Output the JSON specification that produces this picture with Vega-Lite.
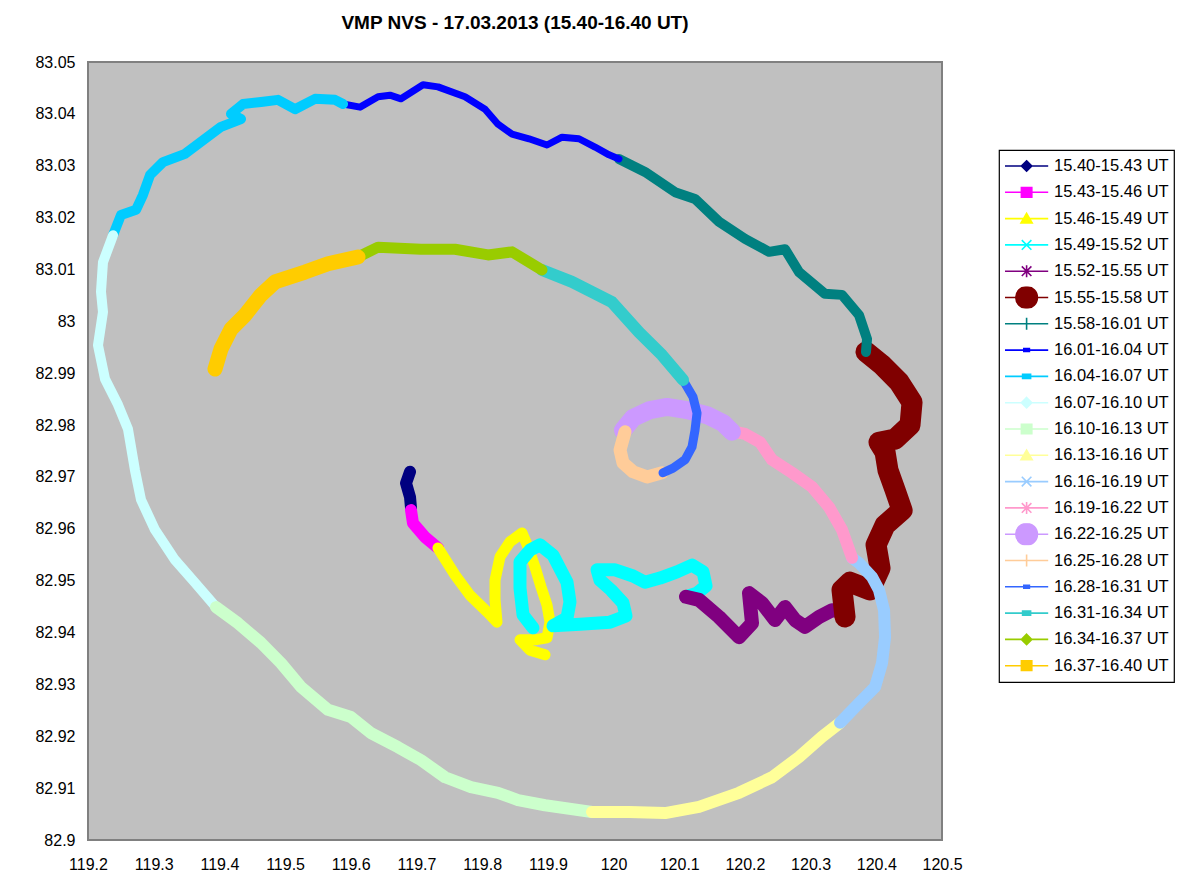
{
  "$schema": "https://vega.github.io/schema/vega-lite/v6.json",
  "width": 854,
  "height": 778,
  "autosize": "none",
  "padding": {"left": 88, "top": 62, "right": 238, "bottom": 55},
  "background": "#ffffff",
  "title": {"text": "VMP NVS - 17.03.2013 (15.40-16.40 UT)", "font": "Liberation Sans", "fontSize": 19, "fontWeight": "bold", "color": "#000000", "anchor": "middle", "offset": 21},
  "data": {"values": [
    {"s":"15.40-15.43 UT","x":119.6902,"y":82.9710,"i":1},
    {"s":"15.40-15.43 UT","x":119.6841,"y":82.9688,"i":2},
    {"s":"15.40-15.43 UT","x":119.6902,"y":82.9661,"i":3},
    {"s":"15.40-15.43 UT","x":119.6917,"y":82.9640,"i":4},
    {"s":"15.43-15.46 UT","x":119.6917,"y":82.9636,"i":5},
    {"s":"15.43-15.46 UT","x":119.6947,"y":82.9611,"i":6},
    {"s":"15.43-15.46 UT","x":119.7130,"y":82.9584,"i":7},
    {"s":"15.43-15.46 UT","x":119.7328,"y":82.9563,"i":8},
    {"s":"15.46-15.49 UT","x":119.7328,"y":82.9563,"i":9},
    {"s":"15.46-15.49 UT","x":119.7587,"y":82.9511,"i":10},
    {"s":"15.46-15.49 UT","x":119.7815,"y":82.9472,"i":11},
    {"s":"15.46-15.49 UT","x":119.8074,"y":82.9440,"i":12},
    {"s":"15.46-15.49 UT","x":119.8226,"y":82.9420,"i":13},
    {"s":"15.46-15.49 UT","x":119.8196,"y":82.9463,"i":14},
    {"s":"15.46-15.49 UT","x":119.8196,"y":82.9501,"i":15},
    {"s":"15.46-15.49 UT","x":119.8272,"y":82.9546,"i":16},
    {"s":"15.46-15.49 UT","x":119.8424,"y":82.9575,"i":17},
    {"s":"15.46-15.49 UT","x":119.8607,"y":82.9592,"i":18},
    {"s":"15.46-15.49 UT","x":119.8698,"y":82.9565,"i":19},
    {"s":"15.46-15.49 UT","x":119.8805,"y":82.9526,"i":20},
    {"s":"15.46-15.49 UT","x":119.8896,"y":82.9488,"i":21},
    {"s":"15.46-15.49 UT","x":119.8987,"y":82.9453,"i":22},
    {"s":"15.46-15.49 UT","x":119.9033,"y":82.9420,"i":23},
    {"s":"15.46-15.49 UT","x":119.8987,"y":82.9390,"i":24},
    {"s":"15.46-15.49 UT","x":119.8805,"y":82.9386,"i":25},
    {"s":"15.46-15.49 UT","x":119.8576,"y":82.9386,"i":26},
    {"s":"15.46-15.49 UT","x":119.8729,"y":82.9366,"i":27},
    {"s":"15.46-15.49 UT","x":119.8957,"y":82.9357,"i":28},
    {"s":"15.49-15.52 UT","x":119.8774,"y":82.9409,"i":29},
    {"s":"15.49-15.52 UT","x":119.8622,"y":82.9434,"i":30},
    {"s":"15.49-15.52 UT","x":119.8576,"y":82.9486,"i":31},
    {"s":"15.49-15.52 UT","x":119.8576,"y":82.9536,"i":32},
    {"s":"15.49-15.52 UT","x":119.8729,"y":82.9559,"i":33},
    {"s":"15.49-15.52 UT","x":119.8881,"y":82.9569,"i":34},
    {"s":"15.49-15.52 UT","x":119.9079,"y":82.9549,"i":35},
    {"s":"15.49-15.52 UT","x":119.9292,"y":82.9497,"i":36},
    {"s":"15.49-15.52 UT","x":119.9337,"y":82.9459,"i":37},
    {"s":"15.49-15.52 UT","x":119.9292,"y":82.9428,"i":38},
    {"s":"15.49-15.52 UT","x":119.9079,"y":82.9413,"i":39},
    {"s":"15.49-15.52 UT","x":119.9490,"y":82.9416,"i":40},
    {"s":"15.49-15.52 UT","x":119.9946,"y":82.9420,"i":41},
    {"s":"15.49-15.52 UT","x":120.0190,"y":82.9432,"i":42},
    {"s":"15.49-15.52 UT","x":120.0144,"y":82.9457,"i":43},
    {"s":"15.49-15.52 UT","x":119.9962,"y":82.9482,"i":44},
    {"s":"15.49-15.52 UT","x":119.9794,"y":82.9501,"i":45},
    {"s":"15.49-15.52 UT","x":119.9749,"y":82.9521,"i":46},
    {"s":"15.49-15.52 UT","x":120.0023,"y":82.9521,"i":47},
    {"s":"15.49-15.52 UT","x":120.0297,"y":82.9509,"i":48},
    {"s":"15.49-15.52 UT","x":120.0479,"y":82.9497,"i":49},
    {"s":"15.49-15.52 UT","x":120.0708,"y":82.9505,"i":50},
    {"s":"15.49-15.52 UT","x":120.0966,"y":82.9517,"i":51},
    {"s":"15.49-15.52 UT","x":120.1195,"y":82.9530,"i":52},
    {"s":"15.49-15.52 UT","x":120.1362,"y":82.9517,"i":53},
    {"s":"15.49-15.52 UT","x":120.1408,"y":82.9490,"i":54},
    {"s":"15.49-15.52 UT","x":120.1271,"y":82.9476,"i":55},
    {"s":"15.49-15.52 UT","x":120.1103,"y":82.9469,"i":56},
    {"s":"15.52-15.55 UT","x":120.1103,"y":82.9469,"i":57},
    {"s":"15.52-15.55 UT","x":120.1301,"y":82.9463,"i":58},
    {"s":"15.52-15.55 UT","x":120.1606,"y":82.9430,"i":59},
    {"s":"15.52-15.55 UT","x":120.1910,"y":82.9391,"i":60},
    {"s":"15.52-15.55 UT","x":120.2108,"y":82.9418,"i":61},
    {"s":"15.52-15.55 UT","x":120.2062,"y":82.9476,"i":62},
    {"s":"15.52-15.55 UT","x":120.2260,"y":82.9457,"i":63},
    {"s":"15.52-15.55 UT","x":120.2458,"y":82.9424,"i":64},
    {"s":"15.52-15.55 UT","x":120.2610,"y":82.9449,"i":65},
    {"s":"15.52-15.55 UT","x":120.2763,"y":82.9424,"i":66},
    {"s":"15.52-15.55 UT","x":120.2915,"y":82.9411,"i":67},
    {"s":"15.52-15.55 UT","x":120.3128,"y":82.9430,"i":68},
    {"s":"15.52-15.55 UT","x":120.3326,"y":82.9443,"i":69},
    {"s":"15.52-15.55 UT","x":120.3524,"y":82.9440,"i":70},
    {"s":"15.55-15.58 UT","x":120.3524,"y":82.9430,"i":71},
    {"s":"15.55-15.58 UT","x":120.3478,"y":82.9482,"i":72},
    {"s":"15.55-15.58 UT","x":120.3600,"y":82.9497,"i":73},
    {"s":"15.55-15.58 UT","x":120.3904,"y":82.9482,"i":74},
    {"s":"15.55-15.58 UT","x":120.4057,"y":82.9524,"i":75},
    {"s":"15.55-15.58 UT","x":120.3996,"y":82.9569,"i":76},
    {"s":"15.55-15.58 UT","x":120.4133,"y":82.9607,"i":77},
    {"s":"15.55-15.58 UT","x":120.4392,"y":82.9636,"i":78},
    {"s":"15.55-15.58 UT","x":120.4285,"y":82.9675,"i":79},
    {"s":"15.55-15.58 UT","x":120.4178,"y":82.9713,"i":80},
    {"s":"15.55-15.58 UT","x":120.4133,"y":82.9748,"i":81},
    {"s":"15.55-15.58 UT","x":120.4041,"y":82.9767,"i":82},
    {"s":"15.55-15.58 UT","x":120.4285,"y":82.9773,"i":83},
    {"s":"15.55-15.58 UT","x":120.4513,"y":82.9800,"i":84},
    {"s":"15.55-15.58 UT","x":120.4544,"y":82.9844,"i":85},
    {"s":"15.55-15.58 UT","x":120.4346,"y":82.9883,"i":86},
    {"s":"15.55-15.58 UT","x":120.4087,"y":82.9916,"i":87},
    {"s":"15.55-15.58 UT","x":120.3843,"y":82.9941,"i":88},
    {"s":"15.58-16.01 UT","x":120.3843,"y":82.9941,"i":89},
    {"s":"15.58-16.01 UT","x":120.3859,"y":82.9966,"i":90},
    {"s":"15.58-16.01 UT","x":120.3737,"y":83.0012,"i":91},
    {"s":"15.58-16.01 UT","x":120.3478,"y":83.0051,"i":92},
    {"s":"15.58-16.01 UT","x":120.3219,"y":83.0053,"i":93},
    {"s":"15.58-16.01 UT","x":120.2824,"y":83.0095,"i":94},
    {"s":"15.58-16.01 UT","x":120.2610,"y":83.0139,"i":95},
    {"s":"15.58-16.01 UT","x":120.2367,"y":83.0134,"i":96},
    {"s":"15.58-16.01 UT","x":120.2002,"y":83.0159,"i":97},
    {"s":"15.58-16.01 UT","x":120.1606,"y":83.0192,"i":98},
    {"s":"15.58-16.01 UT","x":120.1240,"y":83.0236,"i":99},
    {"s":"15.58-16.01 UT","x":120.0936,"y":83.0249,"i":100},
    {"s":"15.58-16.01 UT","x":120.0479,"y":83.0288,"i":101},
    {"s":"15.58-16.01 UT","x":120.0083,"y":83.0313,"i":102},
    {"s":"16.01-16.04 UT","x":120.0083,"y":83.0313,"i":103},
    {"s":"16.01-16.04 UT","x":119.9931,"y":83.0321,"i":104},
    {"s":"16.01-16.04 UT","x":119.9718,"y":83.0336,"i":105},
    {"s":"16.01-16.04 UT","x":119.9474,"y":83.0352,"i":106},
    {"s":"16.01-16.04 UT","x":119.9216,"y":83.0355,"i":107},
    {"s":"16.01-16.04 UT","x":119.8987,"y":83.0340,"i":108},
    {"s":"16.01-16.04 UT","x":119.8713,"y":83.0352,"i":109},
    {"s":"16.01-16.04 UT","x":119.8455,"y":83.0361,"i":110},
    {"s":"16.01-16.04 UT","x":119.8241,"y":83.0380,"i":111},
    {"s":"16.01-16.04 UT","x":119.8044,"y":83.0409,"i":112},
    {"s":"16.01-16.04 UT","x":119.7739,"y":83.0433,"i":113},
    {"s":"16.01-16.04 UT","x":119.7328,"y":83.0452,"i":114},
    {"s":"16.01-16.04 UT","x":119.7100,"y":83.0456,"i":115},
    {"s":"16.01-16.04 UT","x":119.6765,"y":83.0429,"i":116},
    {"s":"16.01-16.04 UT","x":119.6597,"y":83.0436,"i":117},
    {"s":"16.01-16.04 UT","x":119.6415,"y":83.0433,"i":118},
    {"s":"16.01-16.04 UT","x":119.6141,"y":83.0413,"i":119},
    {"s":"16.01-16.04 UT","x":119.5882,"y":83.0419,"i":120},
    {"s":"16.04-16.07 UT","x":119.5882,"y":83.0419,"i":121},
    {"s":"16.04-16.07 UT","x":119.5760,"y":83.0427,"i":122},
    {"s":"16.04-16.07 UT","x":119.5456,"y":83.0429,"i":123},
    {"s":"16.04-16.07 UT","x":119.5151,"y":83.0409,"i":124},
    {"s":"16.04-16.07 UT","x":119.4892,"y":83.0427,"i":125},
    {"s":"16.04-16.07 UT","x":119.4634,"y":83.0423,"i":126},
    {"s":"16.04-16.07 UT","x":119.4360,"y":83.0419,"i":127},
    {"s":"16.04-16.07 UT","x":119.4177,"y":83.0400,"i":128},
    {"s":"16.04-16.07 UT","x":119.4329,"y":83.0390,"i":129},
    {"s":"16.04-16.07 UT","x":119.4025,"y":83.0375,"i":130},
    {"s":"16.04-16.07 UT","x":119.3675,"y":83.0342,"i":131},
    {"s":"16.04-16.07 UT","x":119.3477,"y":83.0323,"i":132},
    {"s":"16.04-16.07 UT","x":119.3142,"y":83.0307,"i":133},
    {"s":"16.04-16.07 UT","x":119.2944,"y":83.0282,"i":134},
    {"s":"16.04-16.07 UT","x":119.2837,"y":83.0244,"i":135},
    {"s":"16.04-16.07 UT","x":119.2731,"y":83.0215,"i":136},
    {"s":"16.04-16.07 UT","x":119.2502,"y":83.0205,"i":137},
    {"s":"16.04-16.07 UT","x":119.2381,"y":83.0166,"i":138},
    {"s":"16.07-16.10 UT","x":119.2381,"y":83.0166,"i":139},
    {"s":"16.07-16.10 UT","x":119.2228,"y":83.0114,"i":140},
    {"s":"16.07-16.10 UT","x":119.2198,"y":83.0057,"i":141},
    {"s":"16.07-16.10 UT","x":119.2228,"y":83.0018,"i":142},
    {"s":"16.07-16.10 UT","x":119.2152,"y":82.9954,"i":143},
    {"s":"16.07-16.10 UT","x":119.2259,"y":82.9889,"i":144},
    {"s":"16.07-16.10 UT","x":119.2457,"y":82.9839,"i":145},
    {"s":"16.07-16.10 UT","x":119.2609,"y":82.9792,"i":146},
    {"s":"16.07-16.10 UT","x":119.2715,"y":82.9713,"i":147},
    {"s":"16.07-16.10 UT","x":119.2807,"y":82.9656,"i":148},
    {"s":"16.07-16.10 UT","x":119.3020,"y":82.9598,"i":149},
    {"s":"16.07-16.10 UT","x":119.3324,"y":82.9540,"i":150},
    {"s":"16.07-16.10 UT","x":119.3629,"y":82.9496,"i":151},
    {"s":"16.07-16.10 UT","x":119.3949,"y":82.9449,"i":152},
    {"s":"16.10-16.13 UT","x":119.3949,"y":82.9449,"i":153},
    {"s":"16.10-16.13 UT","x":119.4283,"y":82.9418,"i":154},
    {"s":"16.10-16.13 UT","x":119.4634,"y":82.9380,"i":155},
    {"s":"16.10-16.13 UT","x":119.4938,"y":82.9341,"i":156},
    {"s":"16.10-16.13 UT","x":119.5243,"y":82.9295,"i":157},
    {"s":"16.10-16.13 UT","x":119.5654,"y":82.9251,"i":158},
    {"s":"16.10-16.13 UT","x":119.6004,"y":82.9237,"i":159},
    {"s":"16.10-16.13 UT","x":119.6308,"y":82.9206,"i":160},
    {"s":"16.10-16.13 UT","x":119.6719,"y":82.9179,"i":161},
    {"s":"16.10-16.13 UT","x":119.7069,"y":82.9154,"i":162},
    {"s":"16.10-16.13 UT","x":119.7435,"y":82.9121,"i":163},
    {"s":"16.10-16.13 UT","x":119.7830,"y":82.9102,"i":164},
    {"s":"16.10-16.13 UT","x":119.8241,"y":82.9091,"i":165},
    {"s":"16.10-16.13 UT","x":119.8546,"y":82.9077,"i":166},
    {"s":"16.10-16.13 UT","x":119.8957,"y":82.9067,"i":167},
    {"s":"16.10-16.13 UT","x":119.9672,"y":82.9054,"i":168},
    {"s":"16.13-16.16 UT","x":119.9672,"y":82.9054,"i":169},
    {"s":"16.13-16.16 UT","x":120.0236,"y":82.9054,"i":170},
    {"s":"16.13-16.16 UT","x":120.0784,"y":82.9052,"i":171},
    {"s":"16.13-16.16 UT","x":120.1301,"y":82.9064,"i":172},
    {"s":"16.13-16.16 UT","x":120.1910,"y":82.9091,"i":173},
    {"s":"16.13-16.16 UT","x":120.2413,"y":82.9121,"i":174},
    {"s":"16.13-16.16 UT","x":120.2824,"y":82.9160,"i":175},
    {"s":"16.13-16.16 UT","x":120.3174,"y":82.9199,"i":176},
    {"s":"16.13-16.16 UT","x":120.3448,"y":82.9226,"i":177},
    {"s":"16.16-16.19 UT","x":120.3448,"y":82.9226,"i":178},
    {"s":"16.16-16.19 UT","x":120.3737,"y":82.9264,"i":179},
    {"s":"16.16-16.19 UT","x":120.3981,"y":82.9295,"i":180},
    {"s":"16.16-16.19 UT","x":120.4087,"y":82.9341,"i":181},
    {"s":"16.16-16.19 UT","x":120.4133,"y":82.9391,"i":182},
    {"s":"16.16-16.19 UT","x":120.4118,"y":82.9443,"i":183},
    {"s":"16.16-16.19 UT","x":120.4041,"y":82.9482,"i":184},
    {"s":"16.16-16.19 UT","x":120.3935,"y":82.9507,"i":185},
    {"s":"16.16-16.19 UT","x":120.3737,"y":82.9534,"i":186},
    {"s":"16.16-16.19 UT","x":120.3630,"y":82.9544,"i":187},
    {"s":"16.19-16.22 UT","x":120.3630,"y":82.9544,"i":188},
    {"s":"16.19-16.22 UT","x":120.3478,"y":82.9598,"i":189},
    {"s":"16.19-16.22 UT","x":120.3280,"y":82.9642,"i":190},
    {"s":"16.19-16.22 UT","x":120.3021,"y":82.9681,"i":191},
    {"s":"16.19-16.22 UT","x":120.2717,"y":82.9708,"i":192},
    {"s":"16.19-16.22 UT","x":120.2413,"y":82.9733,"i":193},
    {"s":"16.19-16.22 UT","x":120.2230,"y":82.9767,"i":194},
    {"s":"16.19-16.22 UT","x":120.2002,"y":82.9783,"i":195},
    {"s":"16.19-16.22 UT","x":120.1849,"y":82.9787,"i":196},
    {"s":"16.22-16.25 UT","x":120.1804,"y":82.9787,"i":197},
    {"s":"16.22-16.25 UT","x":120.1667,"y":82.9804,"i":198},
    {"s":"16.22-16.25 UT","x":120.1423,"y":82.9819,"i":199},
    {"s":"16.22-16.25 UT","x":120.1119,"y":82.9829,"i":200},
    {"s":"16.22-16.25 UT","x":120.0814,"y":82.9835,"i":201},
    {"s":"16.22-16.25 UT","x":120.0555,"y":82.9829,"i":202},
    {"s":"16.22-16.25 UT","x":120.0297,"y":82.9814,"i":203},
    {"s":"16.22-16.25 UT","x":120.0144,"y":82.9790,"i":204},
    {"s":"16.25-16.28 UT","x":120.0175,"y":82.9787,"i":205},
    {"s":"16.25-16.28 UT","x":120.0099,"y":82.9752,"i":206},
    {"s":"16.25-16.28 UT","x":120.0144,"y":82.9727,"i":207},
    {"s":"16.25-16.28 UT","x":120.0297,"y":82.9710,"i":208},
    {"s":"16.25-16.28 UT","x":120.0510,"y":82.9700,"i":209},
    {"s":"16.25-16.28 UT","x":120.0738,"y":82.9708,"i":210},
    {"s":"16.28-16.31 UT","x":120.0753,"y":82.9708,"i":211},
    {"s":"16.28-16.31 UT","x":120.0906,"y":82.9717,"i":212},
    {"s":"16.28-16.31 UT","x":120.1088,"y":82.9733,"i":213},
    {"s":"16.28-16.31 UT","x":120.1195,"y":82.9758,"i":214},
    {"s":"16.28-16.31 UT","x":120.1240,"y":82.9790,"i":215},
    {"s":"16.28-16.31 UT","x":120.1271,"y":82.9823,"i":216},
    {"s":"16.28-16.31 UT","x":120.1210,"y":82.9854,"i":217},
    {"s":"16.28-16.31 UT","x":120.1058,"y":82.9887,"i":218},
    {"s":"16.31-16.34 UT","x":120.1058,"y":82.9887,"i":219},
    {"s":"16.31-16.34 UT","x":120.0738,"y":82.9935,"i":220},
    {"s":"16.31-16.34 UT","x":120.0388,"y":82.9979,"i":221},
    {"s":"16.31-16.34 UT","x":119.9977,"y":83.0037,"i":222},
    {"s":"16.31-16.34 UT","x":119.9368,"y":83.0076,"i":223},
    {"s":"16.31-16.34 UT","x":119.8911,"y":83.0099,"i":224},
    {"s":"16.34-16.37 UT","x":119.8911,"y":83.0099,"i":225},
    {"s":"16.34-16.37 UT","x":119.8455,"y":83.0134,"i":226},
    {"s":"16.34-16.37 UT","x":119.8089,"y":83.0128,"i":227},
    {"s":"16.34-16.37 UT","x":119.7587,"y":83.0139,"i":228},
    {"s":"16.34-16.37 UT","x":119.7069,"y":83.0139,"i":229},
    {"s":"16.34-16.37 UT","x":119.6415,"y":83.0143,"i":230},
    {"s":"16.34-16.37 UT","x":119.6110,"y":83.0124,"i":231},
    {"s":"16.37-16.40 UT","x":119.6110,"y":83.0124,"i":232},
    {"s":"16.37-16.40 UT","x":119.5654,"y":83.0111,"i":233},
    {"s":"16.37-16.40 UT","x":119.5303,"y":83.0095,"i":234},
    {"s":"16.37-16.40 UT","x":119.4847,"y":83.0076,"i":235},
    {"s":"16.37-16.40 UT","x":119.4634,"y":83.0051,"i":236},
    {"s":"16.37-16.40 UT","x":119.4390,"y":83.0012,"i":237},
    {"s":"16.37-16.40 UT","x":119.4177,"y":82.9985,"i":238},
    {"s":"16.37-16.40 UT","x":119.4025,"y":82.9947,"i":239},
    {"s":"16.37-16.40 UT","x":119.3933,"y":82.9908,"i":240}
  ]},
  "encoding": {
    "x": {"field": "x", "type": "quantitative", "scale": {"domain": [119.2, 120.5], "nice": false, "zero": false},
      "axis": {"title": null, "values": [119.2,119.3,119.4,119.5,119.6,119.7,119.8,119.9,120,120.1,120.2,120.3,120.4,120.5], "format": ".4~r", "labelPadding": 16}},
    "y": {"field": "y", "type": "quantitative", "scale": {"domain": [82.9, 83.05], "nice": false, "zero": false},
      "axis": {"title": null, "values": [82.9,82.91,82.92,82.93,82.94,82.95,82.96,82.97,82.98,82.99,83,83.01,83.02,83.03,83.04,83.05], "format": ".4~r", "labelPadding": 13}}
  },
  "layer": [
    {
      "mark": {"type": "point", "filled": true, "size": 1, "opacity": 1, "strokeWidth": 0},
      "encoding": {
        "color": {"field": "s", "type": "nominal",
          "scale": {"domain": ["15.40-15.43 UT","15.43-15.46 UT","15.46-15.49 UT","15.49-15.52 UT","15.52-15.55 UT","15.55-15.58 UT","15.58-16.01 UT","16.01-16.04 UT","16.04-16.07 UT","16.07-16.10 UT","16.10-16.13 UT","16.13-16.16 UT","16.16-16.19 UT","16.19-16.22 UT","16.22-16.25 UT","16.25-16.28 UT","16.28-16.31 UT","16.31-16.34 UT","16.34-16.37 UT","16.37-16.40 UT"],
            "range": ["#000080","#FF00FF","#FFFF00","#00FFFF","#800080","#800000","#008080","#0000FF","#00CCFF","#CCFFFF","#CCFFCC","#FFFF99","#99CCFF","#FF99CC","#CC99FF","#FFCC99","#3366FF","#33CCCC","#99CC00","#FFCC00"]},
          "legend": {"title": null, "orient": "none", "legendX": 911, "legendY": 88, "strokeColor": "#000000", "fillColor": "#ffffff", "padding": 5, "symbolSize": 256, "labelOffset": 32, "rowPadding": 4.3, "clipHeight": 22, "labelFont": "Liberation Sans", "labelFontSize": 16.5, "labelColor": "#000000", "symbolStrokeWidth": 1.6, "labelLimit": 0, "symbolLimit": 0,
            "encode": {"symbols": {"update": {
              "fill": {"scale": "color", "field": "value"},
              "stroke": {"scale": "color", "field": "value"},
              "shape": {"scale": "shape", "field": "value"},
              "size": {"value": 256},
              "strokeWidth": {"value": 1.6},
              "opacity": {"value": 1}
            }}}}},
        "shape": {"field": "s", "type": "nominal",
          "scale": {"domain": ["15.40-15.43 UT","15.43-15.46 UT","15.46-15.49 UT","15.49-15.52 UT","15.52-15.55 UT","15.55-15.58 UT","15.58-16.01 UT","16.01-16.04 UT","16.04-16.07 UT","16.07-16.10 UT","16.10-16.13 UT","16.13-16.16 UT","16.16-16.19 UT","16.19-16.22 UT","16.22-16.25 UT","16.25-16.28 UT","16.28-16.31 UT","16.31-16.34 UT","16.34-16.37 UT","16.37-16.40 UT"],
            "range": [
              "M-1,0H4.4M1.7,-0.65L2.35,0L1.7,0.65L1.05,0Z",
              "M-1,0H4.4M1.05,-0.6H2.35V0.6H1.05Z",
              "M-1,0H4.4M1.7,-0.65L2.4,0.55H1Z",
              "M-1,0H4.4M1.1,-0.6L2.3,0.6M1.1,0.6L2.3,-0.6",
              "M-1,0H4.4M1.1,-0.6L2.3,0.6M1.1,0.6L2.3,-0.6M1.7,-0.75V0.75",
              "M-1,0H4.4M0.35,0A1.35,1.35,0,1,1,3.05,0A1.35,1.35,0,1,1,0.35,0Z",
              "M-1,0H4.4M1,0H2.4M1.7,-0.75V0.75",
              "M-1,0H4.4M1.35,-0.18H2.05V0.18H1.35Z",
              "M-1,0H4.4M1.2,-0.25H2.2V0.25H1.2Z",
              "M-1,0H4.4M1.7,-0.65L2.35,0L1.7,0.65L1.05,0Z",
              "M-1,0H4.4M1.05,-0.6H2.35V0.6H1.05Z",
              "M-1,0H4.4M1.7,-0.65L2.4,0.55H1Z",
              "M-1,0H4.4M1.1,-0.6L2.3,0.6M1.1,0.6L2.3,-0.6",
              "M-1,0H4.4M1.1,-0.6L2.3,0.6M1.1,0.6L2.3,-0.6M1.7,-0.75V0.75",
              "M-1,0H4.4M0.35,0A1.35,1.35,0,1,1,3.05,0A1.35,1.35,0,1,1,0.35,0Z",
              "M-1,0H4.4M1,0H2.4M1.7,-0.75V0.75",
              "M-1,0H4.4M1.35,-0.18H2.05V0.18H1.35Z",
              "M-1,0H4.4M1.2,-0.25H2.2V0.25H1.2Z",
              "M-1,0H4.4M1.7,-0.65L2.35,0L1.7,0.65L1.05,0Z",
              "M-1,0H4.4M1.05,-0.6H2.35V0.6H1.05Z"
            ]}}
      }
    },
    {
      "mark": {"type": "line", "strokeCap": "round", "strokeJoin": "round", "interpolate": "linear"},
      "encoding": {
        "color": {"field": "s", "type": "nominal", "legend": null},
        "strokeWidth": {"field": "s", "type": "nominal", "legend": null,
          "scale": {"type": "ordinal", "domain": ["15.40-15.43 UT","15.43-15.46 UT","15.46-15.49 UT","15.49-15.52 UT","15.52-15.55 UT","15.55-15.58 UT","15.58-16.01 UT","16.01-16.04 UT","16.04-16.07 UT","16.07-16.10 UT","16.10-16.13 UT","16.13-16.16 UT","16.16-16.19 UT","16.19-16.22 UT","16.22-16.25 UT","16.25-16.28 UT","16.28-16.31 UT","16.31-16.34 UT","16.34-16.37 UT","16.37-16.40 UT","none"],
            "range": [12,12,11,13,14,21,10,7,10,10,12,12,12,12,18,13,9,12,11,15,1]}},
        "order": {"field": "i", "type": "quantitative"}
      }
    }
  ],
  "config": {
    "view": {"stroke": "#808080", "strokeWidth": 2, "fill": "#C0C0C0"},
    "axis": {"ticks": false, "domain": false, "grid": false, "labelFont": "Liberation Sans", "labelFontSize": 16, "labelColor": "#000000", "labelOverlap": false, "labelFlush": false},
    "legend": {"strokeWidth": 1.2}
  }
}
